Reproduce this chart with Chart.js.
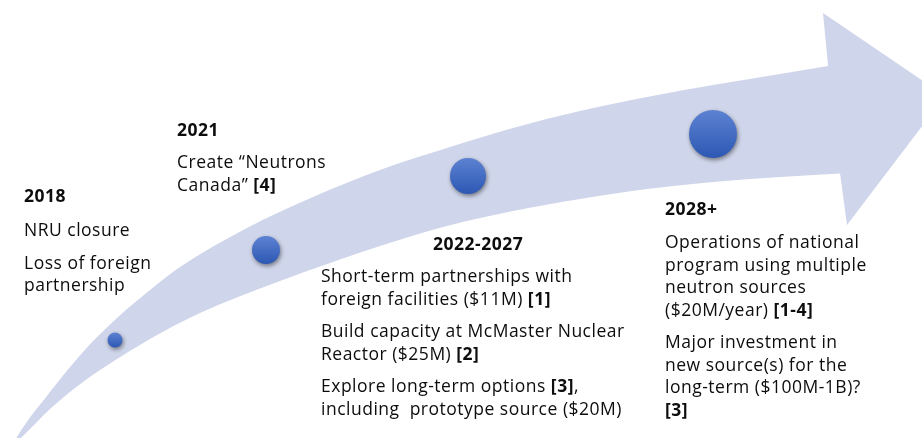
<!DOCTYPE html>
<html>
<head>
<meta charset="utf-8">
<script src="https://cdn.jsdelivr.net/npm/chart.js@4.4.0/dist/chart.umd.min.js"></script>
<style>
  html, body { margin: 0; padding: 0; background: #fff; }
  #wrap { width: 922px; height: 438px; }
</style>
</head>
<body>
<div id="wrap"><canvas id="timeline" width="922" height="438"></canvas></div>
<script>
// milestones along the arrow
let years = ['2018', '2021', '2022-2027', '2028+'];
let bubbleX = [115, 266, 468, 713];
let bubbleY = [340, 250, 176, 134];
let bubbleR = [7.5, 14, 18, 24];

// notes for each milestone, one list per paragraph ([n] refs get bold)
let notes = [
    [['NRU closure'], ['Loss of foreign', 'partnership']],
    [['Create \u201cNeutrons', 'Canada\u201d [4]']],
    [['Short-term partnerships with', 'foreign facilities ($11M) [1]'],
     ['Build capacity at McMaster Nuclear', 'Reactor ($25M) [2]'],
     ['Explore long-term options [3],', 'including  prototype source ($20M)']],
    [['Operations of national', 'program using multiple', 'neutron sources', '($20M/year) [1-4]'],
     ['Major investment in', 'new source(s) for the', 'long-term ($100M-1B)?', '[3]']]
];

// curved arrow body (x, y in picture pixels)
let upperX = [13, 17, 50, 83, 117, 150, 180, 247, 313, 380, 447, 513, 580, 647, 713, 780, 828, 848];
let upperY = [445, 437, 392, 352, 318, 290, 267, 228, 197, 170, 148, 128, 111, 97, 85, 74, 66, 63];
let lowerX = [13, 22, 50, 83, 117, 150, 200, 280, 330, 380, 447, 513, 580, 647, 713, 780, 848];
let lowerY = [445, 437, 409, 382, 359, 339, 313, 281, 263, 246, 226, 211, 199, 189, 182, 177, 173];
// arrow head
let headTopX = [823, 945];
let headTopY = [13, 96];
let headBotX = [823, 828, 840, 847, 945];
let headBotY = [13, 65, 173, 225, 96];

const bandColor = '#cfd5ea';
const pts = (xs, ys) => xs.map((x, i) => ({ x: x, y: ys[i] }));

// where the text blocks sit
let blockPos = [
    { tx: 24, tb: 202, x: 24, b: 236 },
    { tx: 177, tb: 136, x: 177, b: 168 },
    { tx: 433, tb: 250, x: 321, b: 282 },
    { tx: 665, tb: 215, x: 665, b: 248 }
];
const fontSize = 17.5, lineH = 22.5, paraGap = 10;
const fam = '"Open Sans", "Noto Sans", sans-serif';

const shadowPlugin = {
    id: 'bubbleShadow',
    beforeDatasetDraw(chart, args) {
        if (args.index !== 0) return;
        let ctx = chart.ctx;
        ctx.save();
        ctx.shadowColor = 'rgba(0,0,0,0.45)';
        ctx.shadowBlur = 4;
        ctx.shadowOffsetX = 1;
        ctx.shadowOffsetY = 2;
    },
    afterDatasetDraw(chart, args) {
        if (args.index === 0) chart.ctx.restore();
    }
};

function drawRich(ctx, str, x, y) {
    let parts = str.split(/(\[[^\]]+\])/);
    parts.forEach(p => {
        if (!p) return;
        ctx.font = (p[0] === '[' ? 'bold ' : '') + fontSize + 'px ' + fam;
        ctx.fillText(p, x, y);
        x += ctx.measureText(p).width;
    });
}

const notesPlugin = {
    id: 'notes',
    afterDatasetsDraw(chart) {
        let ctx = chart.ctx;
        ctx.save();
        ctx.fillStyle = '#0d0d0d';
        ctx.textBaseline = 'alphabetic';
        ctx.textAlign = 'left';
        ctx.letterSpacing = '0.5px';
        years.forEach((yr, i) => {
            let p = blockPos[i];
            ctx.font = 'bold ' + fontSize + 'px ' + fam;
            ctx.fillText(yr, p.tx, p.tb);
            let y = p.b;
            notes[i].forEach(para => {
                para.forEach(line => {
                    drawRich(ctx, line, p.x, y);
                    y += lineH;
                });
                y += paraGap;
            });
        });
        ctx.restore();
    }
};

new Chart(document.getElementById('timeline'), {
    type: 'line',
    data: {
        datasets: [{
            type: 'bubble',
            label: 'Milestones',
            data: years.map((y, i) => ({ x: bubbleX[i], y: bubbleY[i], r: bubbleR[i] })),
            borderWidth: 0,
            borderColor: 'transparent',
            backgroundColor: function (c) {
                let chart = c.chart;
                if (!chart.chartArea || c.type !== 'data' || !chart.scales.y) return '#4472c4';
                let cy = chart.scales.y.getPixelForValue(c.raw.y), r = c.raw.r;
                let g = chart.ctx.createLinearGradient(0, cy - r, 0, cy + r);
                g.addColorStop(0, '#5c82d2');
                g.addColorStop(1, '#2d58b3');
                return g;
            },
            hoverRadius: 0
        }, {
            label: 'upper',
            data: pts(upperX, upperY),
            fill: false
        }, {
            label: 'lower',
            data: pts(lowerX, lowerY),
            fill: '-1'
        }, {
            label: 'headTop',
            data: pts(headTopX, headTopY),
            tension: 0,
            cubicInterpolationMode: 'default',
            fill: false
        }, {
            label: 'headBot',
            data: pts(headBotX, headBotY),
            tension: 0,
            cubicInterpolationMode: 'default',
            fill: '-1'
        }]
    },
    options: {
        responsive: false,
        animation: false,
        devicePixelRatio: 1,
        layout: { padding: 0, autoPadding: false },
        elements: {
            line: { tension: 0.4, cubicInterpolationMode: 'monotone', borderWidth: 0, borderColor: 'transparent', backgroundColor: bandColor },
            point: { radius: 0, hoverRadius: 0 }
        },
        scales: {
            x: { type: 'linear', min: 0, max: 922, display: false },
            y: { type: 'linear', min: 0, max: 438, reverse: true, display: false }
        },
        plugins: {
            legend: { display: false },
            tooltip: { enabled: false }
        }
    },
    plugins: [shadowPlugin, notesPlugin]
});
</script>
</body>
</html>
